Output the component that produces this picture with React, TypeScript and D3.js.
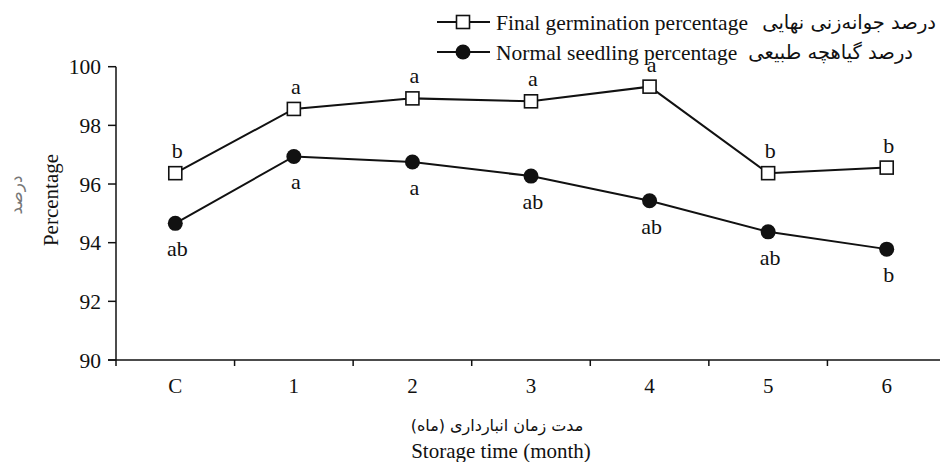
import React from "react";
import * as d3 from "d3";

const categories = ["C", "1", "2", "3", "4", "5", "6"];
const finalGermination = [96.37, 98.56, 98.92, 98.82, 99.32, 96.37, 96.56];
const normalSeedling = [94.66, 96.94, 96.75, 96.27, 95.43, 94.37, 93.78];
const finalLetters = ["b", "a", "a", "a", "a", "b", "b"];
const normalLetters = ["ab", "a", "a", "ab", "ab", "ab", "b"];
const yTicks = [90, 92, 94, 96, 98, 100];
const legendFinalEn = "Final germination percentage";
const legendFinalFa = "درصد جوانه‌زنی نهایی";
const legendNormalEn = "Normal seedling percentage";
const legendNormalFa = "درصد گیاهچه طبیعی";
const yTitle = "Percentage";
const yTitleFa = "درصد";
const xTitleFa = "مدت زمان انبارداری (ماه)";
const xTitle = "Storage time (month)";

const W = 940;
const H = 462;
const SERIF = "'Liberation Serif', 'Times New Roman', serif";
const FA = "'DejaVu Sans', sans-serif";
const INK = "#111";

export default function App() {
  const x = d3.scaleBand<string>().domain(categories).range([116, 946]).padding(0);
  const y = d3.scaleLinear().domain([90, 100]).range([360, 66.7]);
  const cx = (c: string) => (x(c) as number) + x.bandwidth() / 2;

  const line = d3
    .line<number>()
    .x((_, i) => cx(categories[i]))
    .y((d) => y(d));

  const boundaries = categories.map((c) => x(c) as number).concat([x.range()[1]]);
  const sq = 13;
  const r = 7.5;

  return (
    <svg
      width={W}
      height={H}
      style={{ position: "absolute", left: 0, top: 0, background: "#fff" }}
      fontFamily={SERIF}
    >
      <rect x={0} y={0} width={W} height={H} fill="#fff" />
      {/* axes */}
      <line x1={116} x2={116} y1={y(100)} y2={y(90)} stroke={INK} strokeWidth={1.5} />
      <line x1={108} x2={W} y1={y(90)} y2={y(90)} stroke={INK} strokeWidth={1.5} />
      {yTicks.map((t) => (
        <g key={t}>
          <line x1={108} x2={116} y1={y(t)} y2={y(t)} stroke={INK} strokeWidth={1.5} />
          <text x={101} y={y(t)} dy="0.35em" textAnchor="end" fontSize={21.5} fill={INK}>
            {t}
          </text>
        </g>
      ))}
      {boundaries.map((b, i) => (
        <line key={i} x1={b} x2={b} y1={y(90)} y2={y(90) + 6} stroke={INK} strokeWidth={1.5} />
      ))}
      {categories.map((c) => (
        <text key={c} x={cx(c)} y={393} textAnchor="middle" fontSize={21} fill={INK}>
          {c}
        </text>
      ))}
      {/* axis titles */}
      <text x={497} y={431} textAnchor="middle" fontSize={16} fill={INK} fontFamily={FA}>
        {xTitleFa}
      </text>
      <text x={501} y={458} textAnchor="middle" fontSize={21} fill={INK}>
        {xTitle}
      </text>
      <text transform="translate(58,200) rotate(-90)" textAnchor="middle" fontSize={21} fill={INK}>
        {yTitle}
      </text>
      <text
        transform="translate(22,195) rotate(-90)"
        textAnchor="middle"
        fontSize={17}
        fill="#777"
        fontFamily={FA}
      >
        {yTitleFa}
      </text>

      {/* series lines */}
      <path d={line(finalGermination) || ""} fill="none" stroke={INK} strokeWidth={2} />
      <path d={line(normalSeedling) || ""} fill="none" stroke={INK} strokeWidth={2} />
      {normalSeedling.map((v, i) => (
        <circle key={"n" + i} cx={cx(categories[i])} cy={y(v)} r={r} fill={INK} />
      ))}
      {finalGermination.map((v, i) => (
        <rect
          key={"f" + i}
          x={cx(categories[i]) - sq / 2}
          y={y(v) - sq / 2}
          width={sq}
          height={sq}
          fill="#fff"
          stroke={INK}
          strokeWidth={1.6}
        />
      ))}
      {/* letters */}
      {finalGermination.map((v, i) => (
        <text key={"fl" + i} x={cx(categories[i]) + 2} y={y(v) - 15} textAnchor="middle" fontSize={22} fill={INK}>
          {finalLetters[i]}
        </text>
      ))}
      {normalSeedling.map((v, i) => (
        <text key={"nl" + i} x={cx(categories[i]) + 2} y={y(v) + 33} textAnchor="middle" fontSize={22} fill={INK}>
          {normalLetters[i]}
        </text>
      ))}

      {/* legend */}
      <g>
        <line x1={437} x2={490} y1={22} y2={22} stroke={INK} strokeWidth={2} />
        <rect x={463 - sq / 2} y={22 - sq / 2} width={sq} height={sq} fill="#fff" stroke={INK} strokeWidth={1.6} />
        <text x={496} y={22} dy="0.35em" fontSize={21.5} fill={INK}>
          {legendFinalEn}
        </text>
        <text x={936} y={22} dy="0.35em" fontSize={19.5} fill={INK} fontFamily={FA} textAnchor="end">
          {legendFinalFa}
        </text>
        <line x1={437} x2={490} y1={52} y2={52} stroke={INK} strokeWidth={2} />
        <circle cx={463} cy={52} r={r} fill={INK} />
        <text x={496} y={52} dy="0.35em" fontSize={21.5} fill={INK}>
          {legendNormalEn}
        </text>
        <text x={913} y={52} dy="0.35em" fontSize={19.5} fill={INK} fontFamily={FA} textAnchor="end">
          {legendNormalFa}
        </text>
      </g>
    </svg>
  );
}
